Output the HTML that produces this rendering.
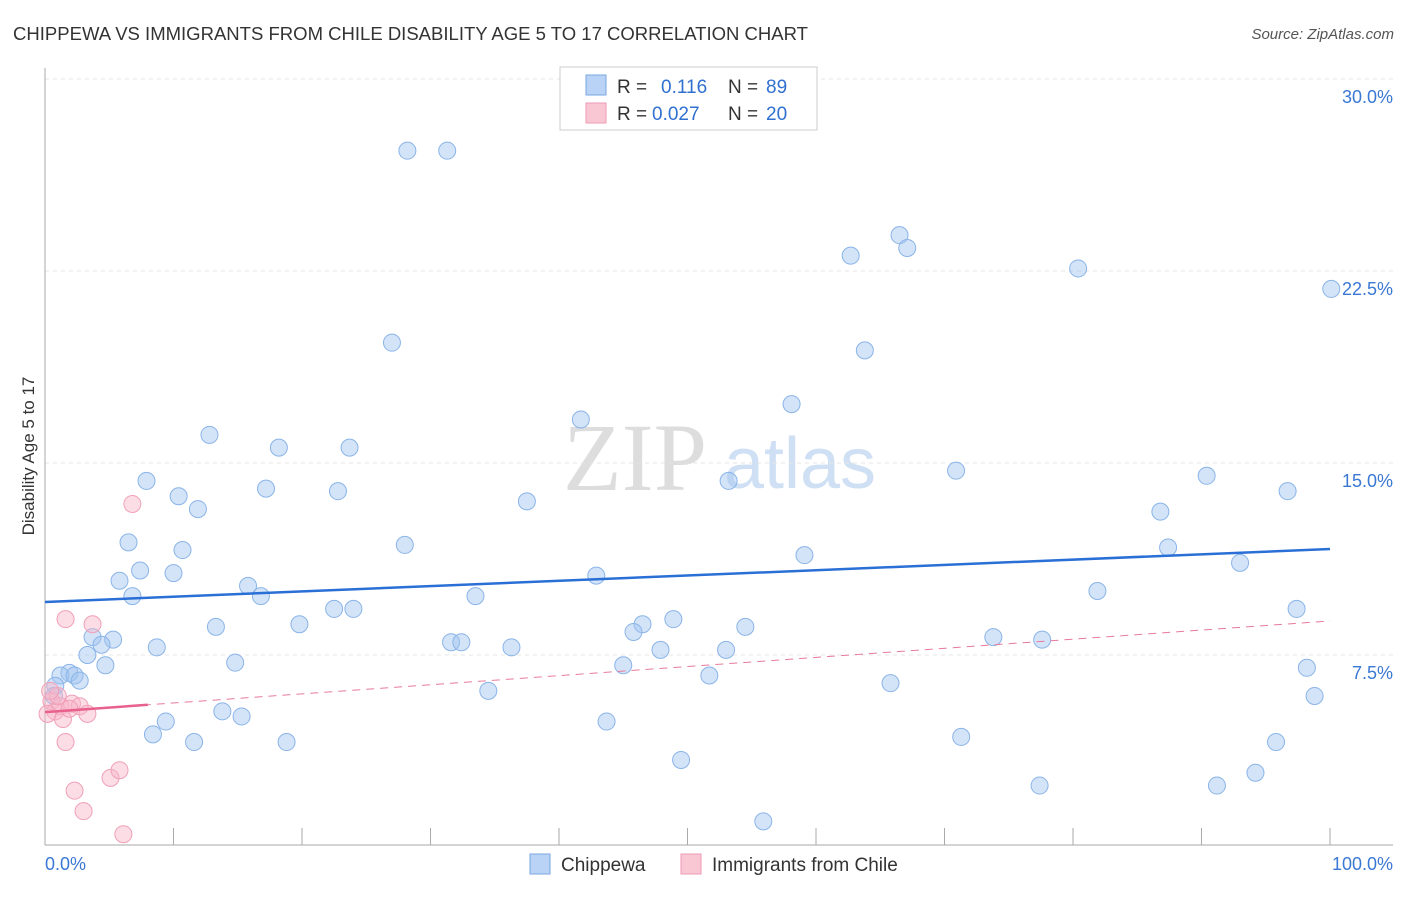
<!DOCTYPE html>
<html><head><meta charset="utf-8"><style>
body{margin:0;background:#fff;font-family:"Liberation Sans",sans-serif;}
</style></head><body>
<svg id="chart" width="1406" height="892" xmlns="http://www.w3.org/2000/svg" font-family="Liberation Sans, sans-serif">
<text x="13" y="40" font-size="18" fill="#333" textLength="795" lengthAdjust="spacingAndGlyphs">CHIPPEWA VS IMMIGRANTS FROM CHILE DISABILITY AGE 5 TO 17 CORRELATION CHART</text>
<text x="1394" y="39" font-size="15" fill="#555" text-anchor="end" font-style="italic">Source: ZipAtlas.com</text>
<text transform="translate(34,456) rotate(-90)" font-size="17" fill="#333" text-anchor="middle">Disability Age 5 to 17</text>
<g>
<text x="635" y="490" font-size="96" font-family="Liberation Serif, serif" fill="#ddd" text-anchor="middle">ZIP</text>
<text x="800" y="488" font-size="72" fill="#cfe0f4" text-anchor="middle">atlas</text>
</g>
<g id="grid"></g>
<g id="axes"></g>
<g id="marks"></g>
<g>
<rect x="560" y="67" width="257" height="63" fill="#fff" stroke="#ccc"/>
<rect x="586" y="75" width="20" height="20" fill="#b8d3f5" stroke="#7aa7e0"/>
<rect x="586" y="103" width="20" height="20" fill="#f9c6d4" stroke="#ee9ab4"/>
<text x="617" y="93" font-size="19" fill="#333">R = </text><text x="661" y="93" font-size="19" fill="#3070d0">0.116</text>
<text x="728" y="93" font-size="19" fill="#333">N = </text><text x="766" y="93" font-size="19" fill="#3070d0">89</text>
<text x="617" y="120" font-size="19" fill="#333">R = </text><text x="652" y="120" font-size="19" fill="#3070d0">0.027</text>
<text x="728" y="120" font-size="19" fill="#333">N = </text><text x="766" y="120" font-size="19" fill="#3070d0">20</text>
</g>
<g>
<rect x="530" y="854" width="20" height="20" fill="#b8d3f5" stroke="#7aa7e0"/>
<text x="561" y="871" font-size="19" fill="#333">Chippewa</text>
<rect x="681" y="854" width="20" height="20" fill="#f9c6d4" stroke="#ee9ab4"/>
<text x="712" y="871" font-size="19" fill="#333">Immigrants from Chile</text>
</g>
</svg>
<script>
const chipX=[28.2,31.3,66.5,67.1,62.7,80.4,100.1,27.0,63.8,58.1,41.7,12.8,18.2,23.7,70.9,90.4,53.2,7.9,17.2,22.8,10.4,96.7,37.5,11.9,86.8,6.5,28.0,10.7,87.4,59.1,93.0,7.4,10.0,42.9,5.8,15.8,6.8,16.8,81.9,33.5,22.5,24.0,97.4,48.9,46.5,19.8,13.3,54.5,45.8,3.7,5.3,73.8,77.6,4.4,8.7,31.6,32.4,36.3,47.9,53.0,3.3,14.8,4.7,45.0,1.9,1.2,2.3,2.7,98.2,51.7,65.8,0.8,34.5,0.7,98.8,13.8,15.3,9.4,43.7,8.4,71.3,11.6,18.8,95.8,49.5,94.2,77.4,91.2,55.9];
const chipY=[27.2,27.2,23.9,23.4,23.1,22.6,21.8,19.7,19.4,17.3,16.7,16.1,15.6,15.6,14.7,14.5,14.3,14.3,14.0,13.9,13.7,13.9,13.5,13.2,13.1,11.9,11.8,11.6,11.7,11.4,11.1,10.8,10.7,10.6,10.4,10.2,9.8,9.8,10.0,9.8,9.3,9.3,9.3,8.9,8.7,8.7,8.6,8.6,8.4,8.2,8.1,8.2,8.1,7.9,7.8,8.0,8.0,7.8,7.7,7.7,7.5,7.2,7.1,7.1,6.8,6.7,6.7,6.5,7.0,6.7,6.4,6.3,6.1,5.9,5.9,5.3,5.1,4.9,4.9,4.4,4.3,4.1,4.1,4.1,3.4,2.9,2.4,2.4,1.0];
const chileX=[0.5,0.8,1.2,1.4,0.2,2.1,2.7,3.3,1.6,1.6,3.7,6.8,2.3,3.0,5.1,5.8,6.1,1.0,0.4,1.9];
const chileY=[5.7,5.3,5.5,5.0,5.2,5.6,5.5,5.2,4.1,8.9,8.7,13.4,2.2,1.4,2.7,3.0,0.5,5.9,6.1,5.4];
const yTicks=[7.5,15.0,22.5,30.0];
const xTickCount=10;
const chipTrend=[9.57,11.64];
const chileTrend=[5.27,8.83];
const chileSolidEnd=8;
const NS='http://www.w3.org/2000/svg';
const X=v=>45+v*12.85, Y=v=>847-v*25.6;
function mk(tag,attrs,parent){const e=document.createElementNS(NS,tag);for(const k in attrs)e.setAttribute(k,attrs[k]);document.getElementById(parent).appendChild(e);return e;}
yTicks.forEach(t=>{
 const g=mk('line',{x1:45,x2:1393,y1:Y(t),y2:Y(t),stroke:'#e4e4e4','stroke-dasharray':'4,4'},'grid');
 
 
 const l=mk('text',{x:1393,y:Y(t)+24,'font-size':18,fill:'#3a78d4','text-anchor':'end'},'grid');
 l.textContent=t.toFixed(1)+'%';
 
 
});
const ax=mk('line',{x1:45,x2:45,y1:68,y2:845,stroke:'#aaa'},'axes');


const bx=mk('line',{x1:45,x2:1393,y1:845,y2:845,stroke:'#aaa'},'axes');


for(let i=0;i<=xTickCount;i++){const t=mk('line',{x1:X(i*10),x2:X(i*10),y1:828,y2:845,stroke:'#aaa'},'axes');
 
 }
const x0=mk('text',{x:45,y:870,'font-size':18,fill:'#3a78d4'},'axes');x0.textContent='0.0%';


const x1=mk('text',{x:1393,y:870,'font-size':18,fill:'#3a78d4','text-anchor':'end'},'axes');x1.textContent='100.0%';


chipX.forEach((v,i)=>{const c=mk('circle',{cx:X(v),cy:Y(chipY[i]),r:8.5,fill:'rgba(160,196,240,0.45)',stroke:'#8ab4e8','stroke-width':1},'marks');
 
 });
chileX.forEach((v,i)=>{const c=mk('circle',{cx:X(v),cy:Y(chileY[i]),r:8.5,fill:'rgba(248,180,200,0.45)',stroke:'#f0a0b8','stroke-width':1},'marks');
 
 });
const tl=mk('line',{x1:X(0),y1:Y(chipTrend[0]),x2:X(100),y2:Y(chipTrend[1]),stroke:'#2a6fd6','stroke-width':2.5},'marks');


const cm=(chileTrend[1]-chileTrend[0])/100;
const pd=mk('line',{x1:X(0),y1:Y(chileTrend[0]),x2:X(100),y2:Y(chileTrend[1]),stroke:'#e87a9c','stroke-width':1,'stroke-dasharray':'8,6'},'marks');


const ps=mk('line',{x1:X(0),y1:Y(chileTrend[0]),x2:X(chileSolidEnd),y2:Y(chileTrend[0]+cm*chileSolidEnd),stroke:'#e8608c','stroke-width':2.5},'marks');


</script>
</body></html>
